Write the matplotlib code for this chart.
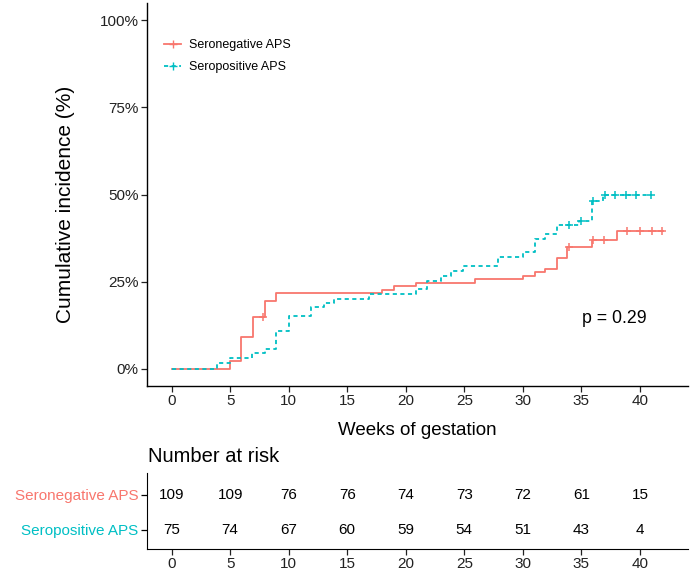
import numpy as np
import matplotlib
matplotlib.use('Agg')
import matplotlib.pyplot as plt
from matplotlib.lines import Line2D

plt.rcParams['font.family'] = ['Liberation Sans', 'DejaVu Sans']

# Cumulative incidence step curves (weeks, %)
neg_times = [0, 4.95, 5.9, 6.95, 7.95, 8.95, 18.0, 19.0, 20.9, 25.9, 30.0, 31.0, 31.9, 32.9, 33.8, 35.9, 38.0, 42.0]
neg_cum = [0, 2.2, 9.2, 14.9, 19.3, 21.6, 22.5, 23.6, 24.6, 25.7, 26.7, 27.7, 28.7, 31.8, 35.0, 37.0, 39.6, 39.6]
neg_censor = [7.8, 33.9, 36.0, 36.9, 38.9, 40.0, 41.0, 41.9]

pos_times = [0, 3.9, 5.0, 6.9, 8.0, 8.9, 10.0, 11.9, 13.0, 13.9, 16.9, 20.9, 21.8, 23.0, 23.9, 24.9, 27.9, 30.0, 31.0, 31.9, 32.9, 34.8, 35.9, 36.8, 40.9]
pos_cum = [0, 1.6, 2.9, 4.5, 5.5, 10.7, 15.0, 17.6, 18.7, 20.1, 21.4, 22.9, 25.2, 26.6, 28.0, 29.4, 32.0, 33.5, 37.3, 38.6, 41.2, 42.3, 48.1, 50.0, 50.0]
pos_censor = [33.9, 35.0, 35.95, 37.0, 37.9, 38.8, 39.7, 40.9]

groups = ['Seronegative APS', 'Seropositive APS']
risk_times = [0, 5, 10, 15, 20, 25, 30, 35, 40]
neg_risk = [109, 109, 76, 76, 74, 73, 72, 61, 15]
pos_risk = [75, 74, 67, 60, 59, 54, 51, 43, 4]

RED = '#F8766D'
TEAL = '#00BFC4'
DASH = (2.3, 1.9)


def level_at(times, cum, t):
    idx = np.searchsorted(times, t, side='right') - 1
    return np.asarray(cum)[idx]


fig = plt.figure(figsize=(6.93, 5.70), dpi=100)
ax = fig.add_axes([147 / 693, 1 - 386 / 570, 541 / 693, 383 / 570])

ax.step(neg_times, neg_cum, where='post', color=RED, lw=1.3)
ax.step(pos_times, pos_cum, where='post', color=TEAL, lw=1.3, dashes=DASH)
ax.plot(neg_censor, level_at(neg_times, neg_cum, neg_censor), '+', color=RED, ms=6, mew=1.1)
ax.plot(pos_censor, level_at(pos_times, pos_cum, pos_censor), '+', color=TEAL, ms=6, mew=1.1)

ax.set_xlim(-2.1, 44.1)
ax.set_ylim(-5, 105)
ax.set_xticks(risk_times)
ax.set_yticks([0, 25, 50, 75, 100])
ax.set_yticklabels(['0%', '25%', '50%', '75%', '100%'])
for s in ['top', 'right']:
    ax.spines[s].set_visible(False)
for s in ['left', 'bottom']:
    ax.spines[s].set_linewidth(1.0)
ax.tick_params(labelsize=11, length=4, width=0.9, pad=2, colors='#222222')
ax.set_xlabel('Weeks of gestation', fontsize=13.5)
ax.xaxis.set_label_coords(0.5, -0.094)
ax.set_ylabel('Cumulative incidence (%)', fontsize=15)
ax.yaxis.set_label_coords(-0.133, 0.474)

ax.text(37.8, 14.5, 'p = 0.29', fontsize=12.8, ha='center', va='center')

handles = [Line2D([], [], color=RED, lw=1.3, marker='+', ms=6),
           Line2D([], [], color=TEAL, lw=1.3, dashes=DASH, marker='+', ms=6)]
ax.legend(handles, groups, loc='upper left', bbox_to_anchor=(0.022, 0.918), frameon=False,
          fontsize=9, handlelength=1.4, handletextpad=0.6, labelspacing=0.8, borderaxespad=0)

# Number at risk table
tb = fig.add_axes([147 / 693, 21 / 570, 541 / 693, 76 / 570])
tb.set_xlim(-2.1, 44.1)
tb.set_ylim(0.45, 2.63)
for t, n in zip(risk_times, neg_risk):
    tb.text(t, 2, str(n), ha='center', va='center', fontsize=11)
for t, n in zip(risk_times, pos_risk):
    tb.text(t, 1, str(n), ha='center', va='center', fontsize=11)
tb.set_xticks(risk_times)
tb.set_yticks([2, 1])
tb.set_yticklabels(groups)
for lab, c in zip(tb.get_yticklabels(), [RED, TEAL]):
    lab.set_color(c)
for s in ['top', 'right']:
    tb.spines[s].set_visible(False)
tb.tick_params(labelsize=11, length=4, width=0.9, pad=2)
tb.tick_params(axis='x', colors='#222222')
fig.text(148 / 693, 1 - 456 / 570, 'Number at risk', fontsize=14.5, ha='left', va='center')

fig.savefig('out.png', dpi=100)
